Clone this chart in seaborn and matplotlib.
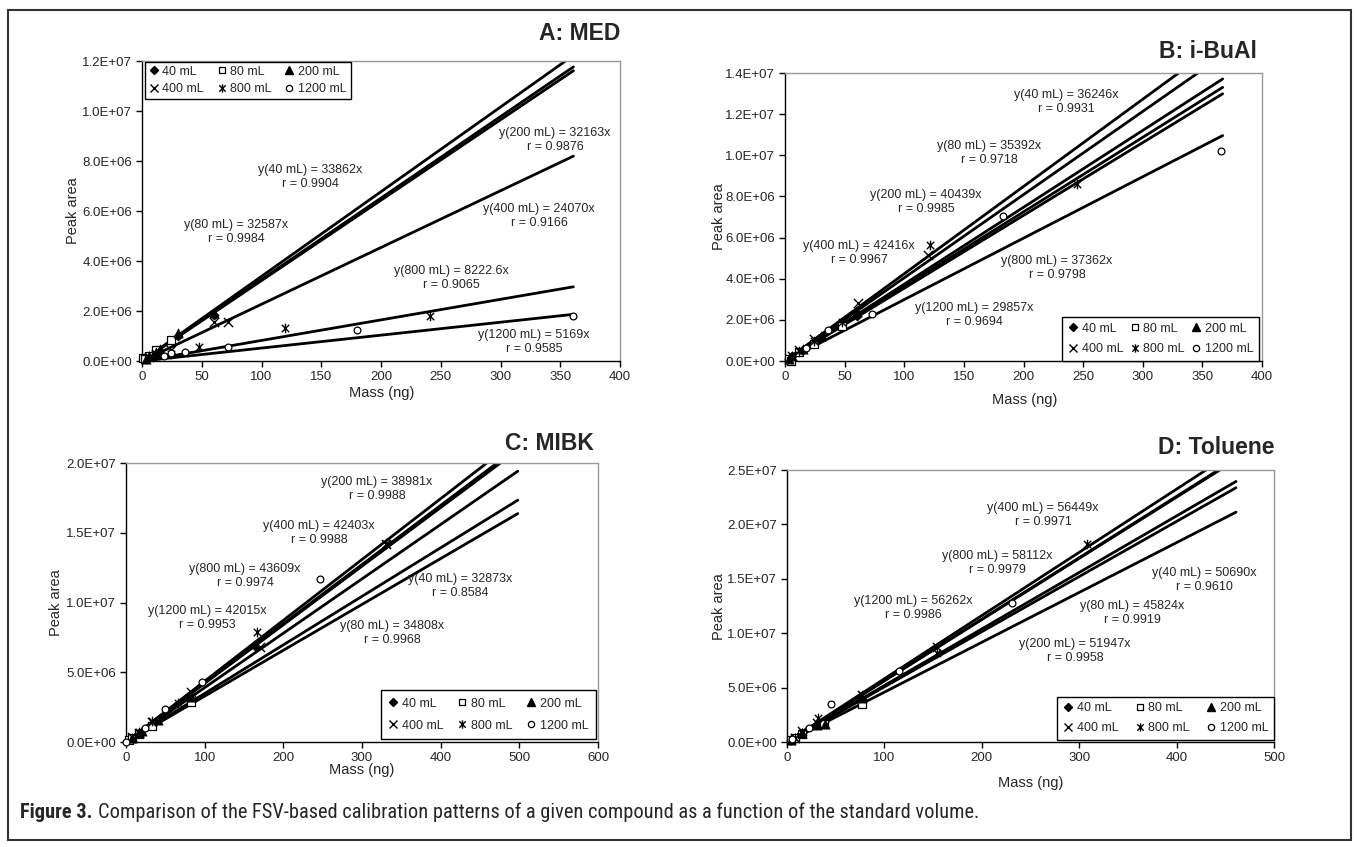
import numpy as np
import pandas as pd
import matplotlib
matplotlib.use("Agg")
import matplotlib.pyplot as plt
import seaborn as sns
from matplotlib import font_manager as fm
from matplotlib.path import Path
from matplotlib.markers import MarkerStyle
from matplotlib.lines import Line2D
from matplotlib.patches import Rectangle
from matplotlib.ticker import FuncFormatter, MultipleLocator

# ---------------- data ----------------
volumes = ["40 mL", "80 mL", "200 mL", "400 mL", "800 mL", "1200 mL"]

A_title = "A: MED"
A_x = [[3, 6, 12, 30, 60],
       [1.2, 2.4, 6, 12, 24],
       [3, 6, 12, 15, 30, 60],
       [6, 12, 24, 60, 72],
       [12, 24, 48, 120, 241],
       [18, 24, 36, 72, 180, 361]]
A_y = [[1.0e5, 2.0e5, 4.0e5, 1.0e6, 1.85e6],
       [1.2e5, 1.0e5, 2.2e5, 4.5e5, 8.4e5],
       [1.0e5, 2.0e5, 3.8e5, 5.0e5, 1.12e6, 1.92e6],
       [1.5e5, 3.0e5, 4.6e5, 1.55e6, 1.57e6],
       [2.0e5, 3.0e5, 5.6e5, 1.31e6, 1.8e6],
       [2.0e5, 3.2e5, 3.6e5, 5.7e5, 1.24e6, 1.8e6]]
A_slope = [33862, 32587, 32163, 22700, 8222.6, 5169]
A_xend = 361
A_eq = ["33862", "32587", "32163", "24070", "8222.6", "5169"]
A_r = ["0.9904", "0.9984", "0.9876", "0.9166", "0.9065", "0.9585"]

B_title = "B: i-BuAl"
B_x = [[3, 6, 12, 24, 30, 60],
       [3, 5, 12, 24, 48],
       [3, 6, 15, 30, 60],
       [6, 12, 24, 61, 120],
       [12, 24, 48, 121.6, 245],
       [18, 36, 73, 183, 366]]
B_y = [[1.1e5, 2.2e5, 4.3e5, 8.7e5, 1.1e6, 2.2e6],
       [1.0e5, 0.0, 4.2e5, 8.4e5, 1.7e6],
       [1.2e5, 2.4e5, 6.0e5, 1.2e6, 2.4e6],
       [2.5e5, 5.3e5, 1.05e6, 2.84e6, 5.15e6],
       [5.0e5, 9.6e5, 1.9e6, 5.64e6, 8.6e6],
       [6.5e5, 1.5e6, 2.28e6, 7.05e6, 1.02e7]]
B_slope = [36246, 35392, 40439, 42416, 37362, 29857]
B_xend = 367
B_eq = ["36246", "35392", "40439", "42416", "37362", "29857"]
B_r = ["0.9931", "0.9718", "0.9985", "0.9967", "0.9798", "0.9694"]

C_title = "C: MIBK"
C_x = [[8, 16, 33, 82, 165],
       [4, 8, 16, 33, 82],
       [8, 16, 20, 41, 82],
       [8, 16, 33, 82, 170, 331],
       [16, 33, 66, 166, 331],
       [0.5, 24, 49, 97, 246]]
C_y = [[3.0e5, 6.5e5, 1.2e6, 3.1e6, 6.8e6],
       [1.5e5, 3.0e5, 5.8e5, 1.15e6, 2.9e6],
       [3.2e5, 6.3e5, 7.8e5, 1.6e6, 3.2e6],
       [3.5e5, 6.8e5, 1.45e6, 3.6e6, 6.8e6, 1.42e7],
       [7.0e5, 1.5e6, 2.8e6, 7.9e6, 1.42e7],
       [0.0, 1.0e6, 2.4e6, 4.3e6, 1.17e7]]
C_slope = [32873, 34808, 38981, 42403, 43609, 42015]
C_xend = 498
C_eq = ["32873", "34808", "38981", "42403", "43609", "42015"]
C_r = ["0.8584", "0.9968", "0.9988", "0.9988", "0.9974", "0.9953"]

D_title = "D: Toluene"
D_x = [[4, 8, 15, 38, 77],
       [4, 8, 15, 38, 77],
       [4, 15, 31, 39, 77],
       [8, 15, 31, 77, 154],
       [8, 15, 31.5, 77, 154, 308],
       [5, 23, 45, 115, 231]]
D_y = [[2.0e5, 4.0e5, 8.0e5, 1.8e6, 3.9e6],
       [1.6e5, 3.5e5, 7.0e5, 1.7e6, 3.5e6],
       [2.0e5, 8.0e5, 1.6e6, 1.65e6, 4.0e6],
       [4.0e5, 1.0e6, 1.75e6, 4.3e6, 8.75e6],
       [4.0e5, 8.0e5, 2.23e6, 4.3e6, 8.14e6, 1.82e7],
       [3.0e5, 1.3e6, 3.46e6, 6.5e6, 1.28e7]]
D_slope = [50690, 45824, 51947, 56449, 58112, 56262]
D_xend = 461
D_eq = ["50690", "45824", "51947", "56449", "58112", "56262"]
D_r = ["0.9610", "0.9919", "0.9958", "0.9971", "0.9979", "0.9986"]

x_label = "Mass (ng)"
y_label = "Peak area"
caption_bold = "Figure 3."
caption_text = "Comparison of the FSV-based calibration patterns of a given compound as a function of the standard volume."

# ---------------- layout / style ----------------
sns.set_style("white")
plt.rcParams["font.family"] = ["Liberation Sans", "DejaVu Sans"]

W, H = 1357, 847
fig = plt.figure(figsize=(W / 100, H / 100), dpi=100)


def fx(px):
    return px / W


def fy(py):
    return 1 - py / H


ast_path = Path([(-1, -1), (1, 1), (-1, 1), (1, -1), (0, -1.3), (0, 1.3)],
                [Path.MOVETO, Path.LINETO] * 3)

mstyle = {
    "40 mL": dict(marker="D", s=22, color="black", edgecolor="black", linewidth=0.5),
    "80 mL": dict(marker="s", s=28, color="white", edgecolor="black", linewidth=0.9),
    "200 mL": dict(marker="^", s=44, color="black", edgecolor="black", linewidth=0.5),
    "400 mL": dict(marker="x", s=44, color="black", linewidth=1.0),
    "800 mL": dict(marker=MarkerStyle(ast_path), s=48, color="black", edgecolor="black", linewidth=1.0),
    "1200 mL": dict(marker="o", s=24, color="white", edgecolor="black", linewidth=0.9),
}
lstyle = {
    "40 mL": dict(marker="D", markersize=4.5, color="black", markerfacecolor="black"),
    "80 mL": dict(marker="s", markersize=5, color="black", markerfacecolor="white", markeredgewidth=0.9),
    "200 mL": dict(marker="^", markersize=6, color="black", markerfacecolor="black"),
    "400 mL": dict(marker="x", markersize=6, color="black", markeredgewidth=1.0),
    "800 mL": dict(marker=MarkerStyle(ast_path), markersize=6, color="black", markeredgewidth=1.0),
    "1200 mL": dict(marker="o", markersize=4.5, color="black", markerfacecolor="white", markeredgewidth=0.9),
}

panels = [
    dict(title=A_title, x=A_x, y=A_y, slope=A_slope, xend=A_xend, eq=A_eq, r=A_r,
         rect=(142, 61, 620, 361), xlim=400, xstep=50, ylim=1.2e7, ystep=2e6,
         title_pos=(620, 34), xlab_pos=(382, 393), ylab_pos=(73, 211),
         lab=[(310, 177), (236, 232), (555, 140), (539, 216), (451, 278), (534, 342)],
         leg=("upper left", (145, 62), 1.0, 0.45, 0.3)),
    dict(title=B_title, x=B_x, y=B_y, slope=B_slope, xend=B_xend, eq=B_eq, r=B_r,
         rect=(785, 73, 1262, 361), xlim=400, xstep=50, ylim=1.4e7, ystep=2e6,
         title_pos=(1257, 51), xlab_pos=(1025, 400), ylab_pos=(719, 217),
         lab=[(1066, 102), (989, 153), (926, 202), (859, 253), (1057, 268), (974, 315)],
         leg=("lower right", (1259, 361), 0.5, 0.7, 0.45)),
    dict(title=C_title, x=C_x, y=C_y, slope=C_slope, xend=C_xend, eq=C_eq, r=C_r,
         rect=(126, 463, 598, 742), xlim=600, xstep=100, ylim=2.0e7, ystep=5e6,
         title_pos=(594, 443), xlab_pos=(362, 770), ylab_pos=(56, 603),
         lab=[(460, 586), (392, 633), (377, 489), (319, 533), (245, 576), (207, 618)],
         leg=("lower right", (596, 739), 1.1, 0.8, 0.6)),
    dict(title=D_title, x=D_x, y=D_y, slope=D_slope, xend=D_xend, eq=D_eq, r=D_r,
         rect=(787, 470, 1274, 742), xlim=500, xstep=100, ylim=2.5e7, ystep=5e6,
         title_pos=(1274, 447), xlab_pos=(1031, 783), ylab_pos=(719, 607),
         lab=[(1204, 580), (1132, 613), (1075, 651), (1043, 515), (997, 563), (913, 608)],
         leg=("lower right", (1274, 740), 1.3, 0.65, 0.45)),
]

sci = FuncFormatter(lambda v, p: "%.1E" % v)

for P in panels:
    l, t, r, b = P["rect"]
    ax = fig.add_axes([fx(l), fy(b), (r - l) / W, (b - t) / H])
    # regression lines
    for vol, s in zip(volumes, P["slope"]):
        line_df = pd.DataFrame({"mass": [0.0, P["xend"]], "area": [0.0, s * P["xend"]]})
        sns.lineplot(data=line_df, x="mass", y="area", ax=ax, color="black",
                     linewidth=2.0, zorder=2, estimator=None, sort=False)
    # measured points
    for vol, xs, ys in zip(volumes, P["x"], P["y"]):
        pts = pd.DataFrame({"mass": xs, "area": ys})
        sns.scatterplot(data=pts, x="mass", y="area", ax=ax, zorder=3,
                        clip_on=False, **mstyle[vol])
    ax.set_xlim(0, P["xlim"])
    ax.set_ylim(0, P["ylim"])
    ax.xaxis.set_major_locator(MultipleLocator(P["xstep"]))
    ax.yaxis.set_major_locator(MultipleLocator(P["ystep"]))
    ax.yaxis.set_major_formatter(sci)
    ax.tick_params(axis="both", direction="out", length=4, width=1, color="black",
                   labelsize=9.5, pad=3, bottom=True, left=True)
    for side in ["left", "bottom"]:
        ax.spines[side].set_color("black")
        ax.spines[side].set_linewidth(1.0)
    for side in ["top", "right"]:
        ax.spines[side].set_color("#9a9a9a")
        ax.spines[side].set_linewidth(1.0)
    ax.set_xlabel(x_label, fontsize=10.5)
    ax.set_ylabel(y_label, fontsize=10.5)
    ax.xaxis.label.set_va("center")
    ax.yaxis.label.set_va("center")
    ax.xaxis.set_label_coords((P["xlab_pos"][0] - l) / (r - l), (b - P["xlab_pos"][1]) / (b - t))
    ax.yaxis.set_label_coords((P["ylab_pos"][0] - l) / (r - l), (b - P["ylab_pos"][1]) / (b - t))
    # legend
    handles = [Line2D([], [], linestyle="none", **lstyle[v]) for v in volumes]
    order = [0, 3, 1, 4, 2, 5]
    loc, (lx, ly), cspace, lspace, bpad = P["leg"]
    leg = fig.legend([handles[i] for i in order], [volumes[i] for i in order],
                     ncol=3, loc=loc, bbox_to_anchor=(fx(lx), fy(ly)),
                     bbox_transform=fig.transFigure, frameon=True, fancybox=False,
                     framealpha=1, edgecolor="black", fontsize=9,
                     handlelength=0.8, handletextpad=0.3, columnspacing=cspace,
                     borderpad=bpad, labelspacing=lspace, borderaxespad=0)
    leg.get_frame().set_linewidth(1.0)
    # equations
    for vol, e, rv, (px, py) in zip(volumes, P["eq"], P["r"], P["lab"]):
        fig.text(fx(px), fy(py), "y(%s) = %sx\nr = %s" % (vol, e, rv),
                 ha="center", va="center", multialignment="center",
                 fontsize=9, linespacing=1.3)
    # panel title
    fig.text(fx(P["title_pos"][0]), fy(P["title_pos"][1]), P["title"],
             ha="right", va="center", fontsize=16.5, fontweight="bold")

# outer frame
fig.add_artist(Rectangle((fx(8), fy(840)), (1351 - 8) / W, (840 - 10.5) / H,
                         transform=fig.transFigure, fill=False,
                         edgecolor="#333333", linewidth=1.5))

# caption: prefer a condensed family if one is installed; size fitted to the reference width
installed = {f.name for f in fm.fontManager.ttflist}
condensed = [n for n in ["Liberation Sans Narrow", "Roboto Condensed", "Open Sans Condensed",
                         "DejaVu Sans Condensed", "Noto Sans Condensed"] if n in installed]
cap_family = condensed[:1] + ["Liberation Sans", "DejaVu Sans"]
target_w = 958.0
fs = 14.0
renderer = fig.canvas.get_renderer()
for _ in range(3):
    t1 = fig.text(0, 0, caption_bold, fontsize=fs, fontweight="bold", family=cap_family)
    t2 = fig.text(0, 0, caption_text, fontsize=fs, family=cap_family)
    w1 = t1.get_window_extent(renderer).width
    w2 = t2.get_window_extent(renderer).width
    t1.remove()
    t2.remove()
    total = w1 + fs * 0.35 + w2
    fs = fs * target_w / total
t1 = fig.text(fx(20), fy(812), caption_bold, ha="left", va="center",
              fontsize=fs, fontweight="bold", family=cap_family)
w1 = t1.get_window_extent(renderer).width
fig.text(fx(20) + (w1 + fs * 0.35) / W, fy(812), caption_text, ha="left",
         va="center", fontsize=fs, family=cap_family)

fig.savefig("out.png", dpi=100)
